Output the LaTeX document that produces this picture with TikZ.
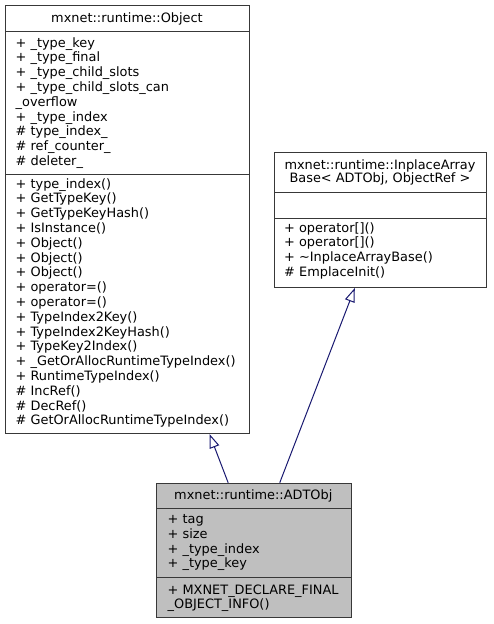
\documentclass[tikz,border=0pt]{standalone}
\usepackage{fontspec}
\setmainfont{DejaVu Sans}
\usetikzlibrary{arrows.meta}
\definecolor{edgeblue}{HTML}{191970}
\definecolor{boxgray}{HTML}{BFBFBF}
\definecolor{boxline}{HTML}{383838}
\tikzset{
  class box/.style={
    draw=boxline, line width=1pt, fill=white, inner sep=0pt, anchor=north west
  },
  class box current/.style={
    class box, fill=boxgray
  },
  class title/.style={
    anchor=base, inner sep=0pt, font=\fontsize{12.9}{14.8}\selectfont
  },
  member/.style={
    anchor=base west, inner sep=0pt, font=\fontsize{12.9}{14.8}\selectfont
  },
  divider/.style={draw=boxline, line width=1pt},
  inherit/.style={
    draw=edgeblue, line width=1pt,
    -{Triangle[open, length=14pt, width=10pt, line width=1pt]}
  }
}

\begin{document}
\begin{tikzpicture}[x=1pt, y=-1pt]
\useasboundingbox (0,0) rectangle (493,624);
% ------------------------------------------------
% mxnet::runtime::Object
% ------------------------------------------------
\node[class box, minimum width=244pt, minimum height=428pt] (obj) at (5,5) {};
\draw[divider] (5,31.5) -- (249,31.5);
\draw[divider] (5,174) -- (249,174);
\node[class title] (objT) at (127,22) {mxnet::runtime::Object};
\foreach \txt [count=\i] in {
  + \_type\_key, + \_type\_final, + \_type\_child\_slots,
  + \_type\_child\_slots\_can, \_overflow, + \_type\_index,
  \# type\_index\_, \# ref\_counter\_, \# deleter\_}
  \node[member] (objA\i) at (15.5,{47+14.8*(\i-1)}) {\txt};
\foreach \txt [count=\i] in {
  + type\_index(), + GetTypeKey(), + GetTypeKeyHash(), + IsInstance(),
  + Object(), + Object(), + Object(), + operator=(), + operator=(),
  + TypeIndex2Key(), + TypeIndex2KeyHash(), + TypeKey2Index(),
  + \_GetOrAllocRuntimeTypeIndex(), + RuntimeTypeIndex(),
  \# IncRef(), \# DecRef(), \# GetOrAllocRuntimeTypeIndex()}
  \node[member] (objM\i) at (15.5,{188+14.8*(\i-1)}) {\txt};

% ------------------------------------------------
% mxnet::runtime::InplaceArrayBase< ADTObj, ObjectRef >
% ------------------------------------------------
\node[class box, minimum width=212pt, minimum height=135pt] (arr) at (274,152) {};
\draw[divider] (274,192) -- (486,192);
\draw[divider] (274,218) -- (486,218);
\node[class title] (arrT1) at (380,169.5) {mxnet::runtime::InplaceArray};
\node[class title] (arrT2) at (380,182) {Base< ADTObj, ObjectRef >};
\foreach \txt [count=\i] in {
  + operator[](), + operator[](), + \textasciitilde InplaceArrayBase(),
  \# EmplaceInit()}
  \node[member] (arrM\i) at (284,{232+14.8*(\i-1)}) {\txt};

% ------------------------------------------------
% mxnet::runtime::ADTObj
% ------------------------------------------------
\node[class box current, minimum width=194.5pt, minimum height=134.5pt] (adt) at (156,482.7) {};
\draw[divider] (156,508.5) -- (350.5,508.5);
\draw[divider] (156,577.3) -- (350.5,577.3);
\node[class title] (adtT) at (253.3,499) {mxnet::runtime::ADTObj};
\foreach \txt [count=\i] in {
  + tag, + size, + \_type\_index, + \_type\_key}
  \node[member] (adtA\i) at (167.5,{523.8+14.7*(\i-1)}) {\txt};
\node[member] (adtM1) at (167.5,594) {+ MXNET\_DECLARE\_FINAL};
\node[member] (adtM2) at (167.5,608.5) {\_OBJECT\_INFO()};

% inheritance
\draw[inherit] ([xshift=-25.6pt]adt.north) -- ([xshift=82pt]obj.south);
\draw[inherit] ([xshift=26pt]adt.north) -- ([xshift=-25.7pt]arr.south);
\end{tikzpicture}
\end{document}
